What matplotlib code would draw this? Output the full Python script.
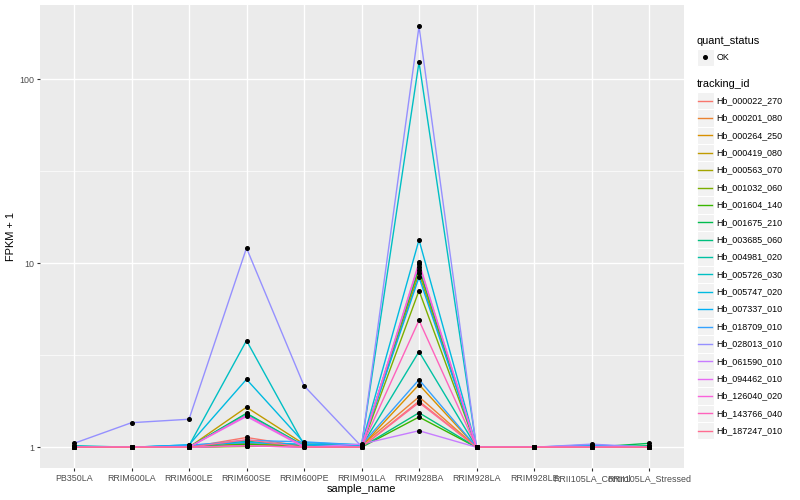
import numpy as np
import matplotlib
matplotlib.use('Agg')
import matplotlib.pyplot as plt
from matplotlib.lines import Line2D
from matplotlib.patches import Rectangle

plt.rcParams['font.family'] = ['Liberation Sans', 'DejaVu Sans']

samples = ['PB350LA', 'RRIM600LA', 'RRIM600LE', 'RRIM600SE', 'RRIM600PE', 'RRIM901LA',
           'RRIM928BA', 'RRIM928LA', 'RRIM928LE', 'RRII105LA_Control', 'RRII105LA_Stressed']

track_ids = ['Hb_000022_270', 'Hb_000201_080', 'Hb_000264_250', 'Hb_000419_080', 'Hb_000563_070',
             'Hb_001032_060', 'Hb_001604_140', 'Hb_001675_210', 'Hb_003685_060', 'Hb_004981_020',
             'Hb_005726_030', 'Hb_005747_020', 'Hb_007337_010', 'Hb_018709_010', 'Hb_028013_010',
             'Hb_061590_010', 'Hb_094462_010', 'Hb_126040_020', 'Hb_143766_040', 'Hb_187247_010']

# ggplot default hue palette for 20 groups
hue_colours = ['#F8766D', '#EA8331', '#D89000', '#C09B00', '#A3A500', '#7CAE00', '#39B600',
               '#00BB4E', '#00BF7D', '#00C1A3', '#00BFC4', '#00BAE0', '#00B0F6', '#35A2FF',
               '#9590FF', '#C77CFF', '#E76BF3', '#FA62DB', '#FF62BC', '#FF6C91']

# FPKM + 1 per gene, in sample order
fpkm_plus1 = [
    [1, 1, 1, 1.13, 1.01, 1, 1.78, 1, 1, 1, 1],        # Hb_000022_270
    [1, 1, 1, 1.05, 1.01, 1.02, 1.88, 1, 1, 1, 1],     # Hb_000201_080
    [1, 1, 1, 1.03, 1.02, 1.01, 2.19, 1, 1, 1, 1],     # Hb_000264_250
    [1, 1, 1, 1.65, 1.04, 1.02, 9.2, 1, 1, 1, 1],      # Hb_000419_080
    [1, 1, 1, 1.02, 1.03, 1, 8.8, 1, 1, 1, 1],         # Hb_000563_070
    [1, 1, 1, 1.01, 1.02, 1, 7.1, 1, 1, 1, 1],         # Hb_001032_060
    [1, 1, 1, 1.04, 1, 1, 1.46, 1, 1, 1, 1],           # Hb_001604_140
    [1.01, 1, 1, 1.53, 1.02, 1.02, 9.5, 1, 1, 1, 1.05],  # Hb_001675_210
    [1, 1, 1, 1.08, 1.01, 1, 1.54, 1, 1, 1, 1.02],     # Hb_003685_060
    [1, 1, 1, 1.51, 1.02, 1.01, 3.31, 1, 1, 1, 1],     # Hb_004981_020
    [1.02, 1, 1.02, 3.8, 1.03, 1.02, 124, 1, 1, 1, 1],  # Hb_005726_030
    [1, 1, 1.03, 2.34, 1.06, 1.03, 13.4, 1, 1, 1, 1],  # Hb_005747_020
    [1, 1, 1.03, 1.06, 1.04, 1.01, 8.4, 1, 1, 1.02, 1],  # Hb_007337_010
    [1, 1, 1.02, 1.09, 1.07, 1.03, 2.33, 1, 1, 1.03, 1],  # Hb_018709_010
    [1.05, 1.36, 1.42, 12.1, 2.16, 1.01, 194, 1, 1, 1.04, 1],  # Hb_028013_010
    [1, 1, 1, 1.02, 1, 1.04, 1.23, 1, 1, 1, 1],        # Hb_061590_010
    [1, 1, 1, 1.47, 1, 1, 9.9, 1, 1, 1, 1],            # Hb_094462_010
    [1, 1, 1, 1.49, 1.01, 1, 10.1, 1, 1, 1, 1],        # Hb_126040_020
    [1, 1, 1, 1.02, 1, 1, 4.9, 1, 1, 1, 1],            # Hb_143766_040
    [1, 1, 1, 1.10, 1, 1, 1.75, 1, 1, 1, 1],           # Hb_187247_010
]

W, H = 800, 500
fig = plt.figure(figsize=(8, 5), dpi=100)
ax = fig.add_axes([39.5 / W, 1 - 468.3 / H, (683.5 - 39.5) / W, (468.3 - 5.3) / H])
ax.set_facecolor('#EBEBEB')
for s in ax.spines.values():
    s.set_visible(False)

x = np.arange(len(samples))
for vals, col in zip(fpkm_plus1, hue_colours):
    ax.plot(x, vals, color=col, lw=1.0, zorder=2)
for vals in fpkm_plus1:
    ax.plot(x, vals, ls='none', marker='o', ms=2.6, color='black', zorder=3)

ax.set_yscale('log')
all_vals = np.array(fpkm_plus1)
lo, hi = np.log10(all_vals.min()), np.log10(all_vals.max())
pad = 0.05 * (hi - lo)
ax.set_ylim(10 ** (lo - pad), 10 ** (hi + pad))
ax.set_xlim(-0.6, len(samples) - 0.4)

ax.set_yticks([1, 10, 100])
ax.set_yticklabels(['1', '10', '100'])
ax.yaxis.set_minor_locator(matplotlib.ticker.FixedLocator([10 ** 0.5, 10 ** 1.5]))
ax.yaxis.set_minor_formatter(matplotlib.ticker.NullFormatter())
ax.set_xticks(x)
ax.set_xticklabels(samples)

ax.grid(which='major', color='white', lw=1.0, zorder=0)
ax.grid(which='minor', axis='y', color='white', lw=0.5, zorder=0)
ax.set_axisbelow(True)
ax.tick_params(which='major', length=2.5, width=0.8, color='#333333', labelsize=6.4,
               labelcolor='#4D4D4D', pad=1.5)
ax.tick_params(which='minor', length=0)

ax.set_xlabel('sample_name', fontsize=7.9, labelpad=0.5)
ax.set_ylabel('FPKM + 1', fontsize=7.9, labelpad=2)

# legends, ggplot style
def px(xp, yp):
    return xp / W, 1 - yp / H

key = 17.37
fig.text(*px(696.5, 40.7), 'quant_status', fontsize=7.9, va='center', ha='left')
fig.add_artist(Rectangle(px(696.5, 48.5 + key), key / W, key / H, facecolor='#F2F2F2',
                         edgecolor='white', lw=0.8, transform=fig.transFigure))
fig.add_artist(Line2D([px(705.2, 57)[0]], [px(705.2, 57)[1]], marker='o', ms=2.6, color='black',
                      transform=fig.transFigure))
fig.text(*px(716.5, 57), 'OK', fontsize=6.4, va='center', ha='left')

fig.text(*px(696.5, 84), 'tracking_id', fontsize=7.9, va='center', ha='left')
for i, (tid, col) in enumerate(zip(track_ids, hue_colours)):
    yc = 100.7 + i * key
    fig.add_artist(Rectangle(px(696.5, yc + key / 2), key / W, key / H, facecolor='#F2F2F2',
                             edgecolor='white', lw=0.8, transform=fig.transFigure))
    x0, y0 = px(698.2, yc)
    x1, _ = px(712.1, yc)
    fig.add_artist(Line2D([x0, x1], [y0, y0], color=col, lw=1.0, transform=fig.transFigure))
    fig.text(*px(716.5, yc), tid, fontsize=6.4, va='center', ha='left')

fig.savefig('out.png', dpi=100)
